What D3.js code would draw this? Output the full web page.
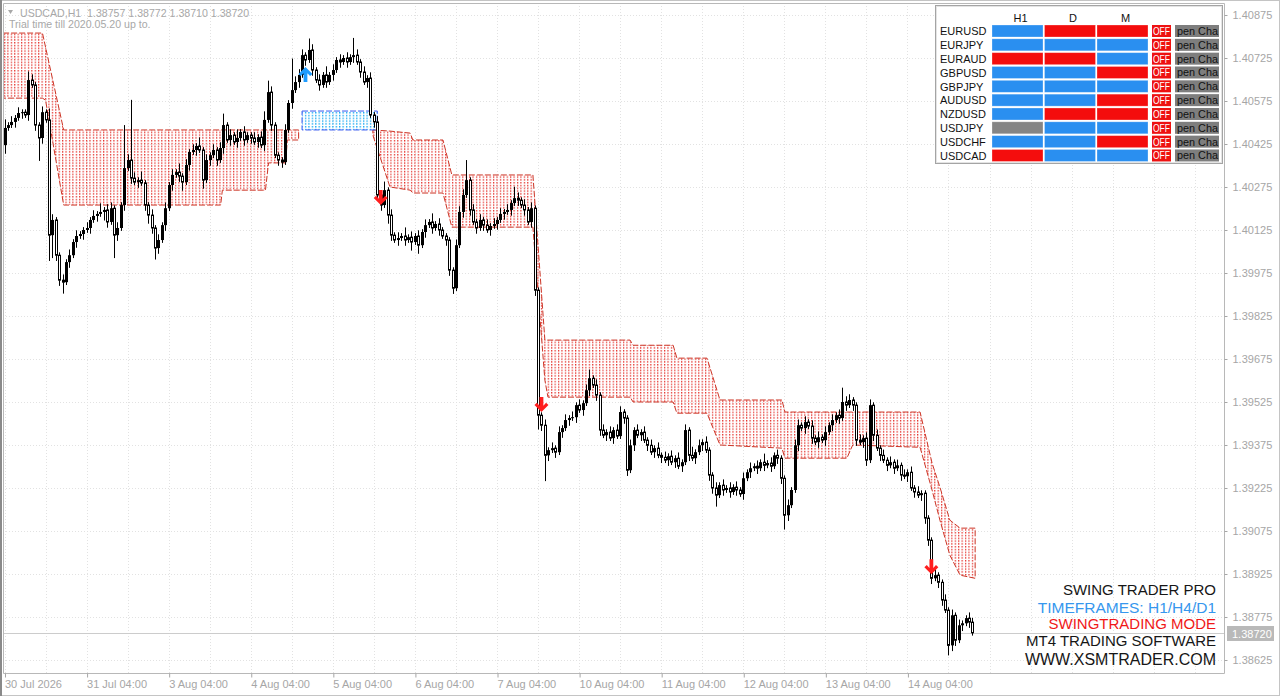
<!DOCTYPE html>
<html><head><meta charset="utf-8">
<script src="https://cdn.jsdelivr.net/npm/d3@7"></script>
<style>
body{margin:0;background:#fff;overflow:hidden}
svg{display:block}
text{font-family:"Liberation Sans",Arial,sans-serif}
</style></head>
<body><svg id="c" width="1280" height="696"></svg>
<script>
// ---------------- DATA ----------------
const symbolTitle = "USDCAD,H1";
const headerOHLC = ["1.38757", "1.38772", "1.38710", "1.38720"];
const trialText = "Trial time till 2020.05.20 up to.";
const lastPrice = 1.38720;
const firstOpen = 1.40421;
const pip = 0.0001;

const closes = [
 1.40481,1.40491,1.40502,1.40516,1.40533,1.40536,1.40526,1.40648,1.40631,1.40491,1.40446,1.40536,
 1.40509,1.40107,1.40160,1.40037,1.39950,1.39943,1.40013,1.40037,1.40083,1.40104,1.40111,1.40125,
 1.40132,1.40160,1.40174,1.40181,1.40188,1.40195,1.40153,1.40201,1.40107,1.40132,1.40212,1.40341,
 1.40369,1.40306,1.40292,1.40299,1.40289,1.40212,1.40177,1.40132,1.40062,1.40090,1.40142,1.40201,
 1.40282,1.40317,1.40327,1.40313,1.40292,1.40352,1.40397,1.40404,1.40418,1.40404,1.40299,1.40369,
 1.40386,1.40404,1.40369,1.40411,1.40491,1.40439,1.40456,1.40432,1.40446,1.40467,1.40439,1.40456,
 1.40446,1.40432,1.40449,1.40421,1.40509,1.40606,1.40491,1.40386,1.40369,1.40362,1.40474,1.40568,
 1.40613,1.40641,1.40666,1.40735,1.40718,1.40753,1.40683,1.40648,1.40631,1.40666,1.40641,1.40666,
 1.40683,1.40718,1.40711,1.40725,1.40711,1.40728,1.40735,1.40711,1.40676,1.40641,1.40655,1.40526,
 1.40502,1.40247,1.40212,1.40264,1.40177,1.40107,1.40090,1.40097,1.40104,1.40090,1.40100,1.40083,
 1.40104,1.40072,1.40118,1.40142,1.40153,1.40132,1.40146,1.40125,1.40104,1.40090,1.39985,1.39922,
 1.40072,1.40188,1.40247,1.40299,1.40195,1.40153,1.40132,1.40160,1.40142,1.40125,1.40139,1.40146,
 1.40160,1.40181,1.40188,1.40195,1.40219,1.40236,1.40229,1.40212,1.40195,1.40153,1.40201,1.39915,
 1.39479,1.39444,1.39339,1.39357,1.39364,1.39350,1.39420,1.39434,1.39462,1.39469,1.39472,1.39514,
 1.39497,1.39521,1.39566,1.39608,1.39584,1.39549,1.39427,1.39409,1.39420,1.39399,1.39427,1.39406,
 1.39490,1.39469,1.39287,1.39374,1.39427,1.39409,1.39420,1.39392,1.39374,1.39350,1.39364,1.39339,
 1.39332,1.39322,1.39336,1.39315,1.39329,1.39301,1.39315,1.39427,1.39339,1.39329,1.39350,1.39374,
 1.39385,1.39357,1.39270,1.39225,1.39200,1.39235,1.39218,1.39225,1.39211,1.39228,1.39218,1.39204,
 1.39259,1.39280,1.39294,1.39301,1.39294,1.39315,1.39304,1.39312,1.39301,1.39339,1.39329,1.39259,
 1.39130,1.39165,1.39218,1.39374,1.39444,1.39434,1.39455,1.39441,1.39399,1.39385,1.39402,1.39392,
 1.39420,1.39444,1.39462,1.39479,1.39469,1.39525,1.39514,1.39532,1.39514,1.39392,1.39385,1.39399,
 1.39322,1.39514,1.39409,1.39364,1.39339,1.39322,1.39304,1.39315,1.39294,1.39304,1.39270,1.39266,
 1.39280,1.39225,1.39211,1.39200,1.39207,1.39120,1.39043,1.38910,1.38921,1.38896,1.38834,1.38799,
 1.38676,1.38781,1.38694,1.38746,1.38753,1.38771,1.38757,1.38720
];
// upper / lower wick length beyond the body, in pips
const wickHi = [
 3,1,2,1,2,1,1,3,2,1,1,2, 1,4,2,1,1,2,1,2,1,2,1,1,
 2,1,2,1,3,1,2,2,1,2,1,15, 2,21,2,1,3,1,1,2,1,2,1,2,
 1,2,1,3,1,2,1,2,1,3,1,2, 1,2,1,2,4,1,2,1,3,1,2,1,
 1,2,1,2,3,4,2,1,1,1,2,1, 11,2,2,2,1,4,2,1,2,1,3,1,
 2,1,2,1,2,1,6,2,1,2,1,2, 1,2,1,3,1,2,1,2,1,3,1,2,
 1,2,1,2,1,3,1,2,1,1,1,1, 2,2,2,7,1,2,1,2,1,2,1,2,
 1,2,1,2,1,4,2,1,2,1,2,1, 1,1,2,1,2,1,2,1,2,1,2,1,
 2,1,2,3,1,2,1,2,1,2,1,2, 2,1,1,2,1,2,1,2,1,2,1,2,
 1,2,1,2,1,2,1,2,1,3,1,2, 1,2,1,1,2,1,2,1,2,1,2,1,
 2,1,2,1,2,1,3,1,2,1,2,1, 1,2,1,2,2,1,2,1,2,1,2,1,
 2,1,2,1,2,5,2,2,1,1,2,1, 2,2,1,2,1,2,1,2,1,2,1,2,
 1,2,1,2,1,1,1,1,2,1,1,2, 1,2,1,2,1,1,2,1.5
];
const wickLo = [
 3,1,1,2,1,2,1,2,1,2,8,2, 1,9,8,2,2,4,1,2,1,2,1,2,
 1,2,1,2,1,3,2,1,8,2,1,2, 1,2,1,2,1,2,3,2,4,2,1,2,
 1,2,1,2,3,1,2,1,2,1,3,1, 2,1,2,1,2,1,2,1,2,1,2,1,
 2,1,2,1,2,1,2,1,2,2,1,1, 2,1,2,1,2,1,2,1,2,1,2,1,
 2,1,2,1,2,1,2,1,2,1,2,1, 2,2,2,1,3,2,1,2,1,2,1,3,
 1,3,1,2,1,2,1,2,1,2,2,2, 1,1,2,1,2,1,2,1,2,1,2,1,
 2,1,2,1,2,1,2,1,2,1,2,2, 5,2,9,2,1,2,1,2,1,2,1,2,
 1,2,1,2,1,2,2,1,2,1,2,1, 1,2,2,1,2,1,2,1,2,1,2,1,
 2,1,2,1,2,1,2,1,2,1,2,1, 2,1,2,2,4,1,2,1,2,1,2,1,
 2,1,2,1,2,1,2,1,2,1,2,2, 5,2,1,1,2,1,2,1,2,1,2,1,
 2,1,2,1,2,1,2,1,2,2,1,2, 2,1,2,1,2,1,2,1,2,1,2,1,
 2,1,2,1,2,2,2,2,1,2,2,1, 3.5,2,2,1,2,1,2,1
];

const priceTicks = [1.40875,1.40725,1.40575,1.40425,1.40275,1.40125,1.39975,1.39825,
                    1.39675,1.39525,1.39375,1.39225,1.39075,1.38925,1.38775,1.38625];
const timeLabels = ["30 Jul 2026","31 Jul 04:00","3 Aug 04:00","4 Aug 04:00","5 Aug 04:00",
                    "6 Aug 04:00","7 Aug 04:00","10 Aug 04:00","11 Aug 04:00","12 Aug 04:00",
                    "13 Aug 04:00","14 Aug 04:00"];
const timeLabelBars = [0,24,48,72,96,120,144,168,192,216,240,264];

// red swing zones (bar index, upper price, lower price)
const zoneAIdx = [-0.4, 11.1, 12, 17.3, 63.2, 63.7, 76.3, 77.2, 82.2, 82.7, 86];
const zoneATop = [1.40812,1.40812,1.40763,1.40474,1.40474,1.40474,1.40474,1.40474,1.40474,1.40474,1.40474];
const zoneABot = [1.40585,1.40585,1.40578,1.40212,1.40212,1.40264,1.40264,1.40359,1.40359,1.40439,1.40439];
const zoneBIdx = [107.7,112.7,118.6,119.4,128.2,130.8,154.5,158.0,158.9,182.9,183.8,195.5,196.6,
                  205.4,209.2,227.3,228.2,246.3,248.0,267.7,271.2,273.5,276.4,279.4,283.8];
const zoneBTop = [1.40474,1.40470,1.40463,1.40439,1.40439,1.40317,1.40317,1.39741,1.39741,1.39741,
                  1.39723,1.39723,1.39678,1.39678,1.39532,1.39532,1.39490,1.39490,1.39490,1.39490,
                  1.39312,1.39228,1.39113,1.39085,1.39085];
const zoneBBot = [1.40456,1.40275,1.40264,1.40254,1.40254,1.40135,1.40135,1.39601,1.39542,1.39542,
                  1.39525,1.39525,1.39486,1.39486,1.39375,1.39364,1.39329,1.39329,1.39375,1.39367,
                  1.39218,1.39113,1.38991,1.38921,1.38910];
// blue zone
const blueIdx = [87, 109];
const blueTop = [1.40540, 1.40540];
const blueBot = [1.40474, 1.40474];

// signal arrows (bar index, price at arrow tip)
const buyIdx = [88];
const buyPrice = [1.40694];
const sellIdx = [110, 157, 271];
const sellPrice = [1.40212, 1.39490, 1.38924];

// dashboard
const pairs = ["EURUSD","EURJPY","EURAUD","GBPUSD","GBPJPY","AUDUSD","NZDUSD","USDJPY","USDCHF","USDCAD"];
const tfHeaders = ["H1","D","M"];
const sigH1 = ["up","up","dn","up","up","up","up","na","up","dn"];
const sigD  = ["dn","up","dn","up","up","up","dn","up","up","up"];
const sigM  = ["dn","up","up","dn","up","dn","dn","up","dn","up"];
const offLabel = "OFF";
const chartLabel = "pen Cha";

const promoText = ["SWING TRADER PRO","TIMEFRAMES: H1/H4/D1","SWINGTRADING MODE","MT4 TRADING SOFTWARE","WWW.XSMTRADER.COM"];
const promoColor = ["#161616","#3697ee","#f01818","#161616","#161616"];

// ---------------- DRAW ----------------
const svg = d3.select("#c");
const PL = 3, PT = 3, PR = 1224, PB = 673;
const x = d3.scaleLinear().domain([0, 283]).range([4.5, 972.4]);
const y = d3.scaleLinear().domain([1.38625, 1.40875]).range([660, 15]);
const step = x(1) - x(0);

svg.append("rect").attr("width",1280).attr("height",696).attr("fill","#fff");

const defs = svg.append("defs");
defs.append("clipPath").attr("id","plotClip").append("rect")
  .attr("x",PL).attr("y",PT).attr("width",PR-PL).attr("height",PB-PT);
const pr = defs.append("pattern").attr("id","redDots").attr("patternUnits","userSpaceOnUse")
  .attr("x", x(0)-0.6).attr("y",0).attr("width",step).attr("height",2.8);
pr.append("rect").attr("width",1.2).attr("height",1.5).attr("fill","#e4312b");
const pb = defs.append("pattern").attr("id","blueDots").attr("patternUnits","userSpaceOnUse")
  .attr("x", x(0)-0.6).attr("y",0).attr("width",step).attr("height",2.8);
pb.append("rect").attr("width",1.3).attr("height",1.5).attr("fill","#1aaaf2");

const plot = svg.append("g").attr("clip-path","url(#plotClip)");

// grid
const gridColor = "#e2e2e2";
plot.append("g").selectAll("line").data(priceTicks).join("line")
  .attr("x1",PL).attr("x2",PR).attr("y1",d=>Math.round(y(d))+0.5).attr("y2",d=>Math.round(y(d))+0.5)
  .attr("stroke",gridColor).attr("stroke-dasharray","1,2");
const vBars = d3.range(0, 360, 12).filter(i => x(i) < PR);
plot.append("g").selectAll("line").data(vBars).join("line")
  .attr("x1",d=>Math.round(x(d))+0.5).attr("x2",d=>Math.round(x(d))+0.5).attr("y1",PT).attr("y2",PB)
  .attr("stroke",gridColor).attr("stroke-dasharray","1,2");

// zones
function zone(idx, top, bot, fill, edge){
  const pts = idx.map((d,k)=>({i:d, t:top[k], b:bot[k]}));
  const area = d3.area().x(d=>x(d.i)).y0(d=>y(d.b)).y1(d=>y(d.t));
  plot.append("path").datum(pts).attr("d",area).attr("fill",fill);
  const outline = pts.map(d=>[x(d.i),y(d.t)]).concat(pts.slice().reverse().map(d=>[x(d.i),y(d.b)]));
  plot.append("path").attr("d", d3.line()(outline)+"Z").attr("fill","none")
    .attr("stroke",edge).attr("stroke-width",1).attr("stroke-dasharray","6,2");
}
zone(zoneAIdx, zoneATop, zoneABot, "url(#redDots)", "#cc3526");
zone(zoneBIdx, zoneBTop, zoneBBot, "url(#redDots)", "#cc3526");
zone(blueIdx, blueTop, blueBot, "url(#blueDots)", "#3658f0");

// bid line
plot.append("line").attr("x1",PL).attr("x2",PR)
  .attr("y1",Math.round(y(lastPrice))+0.5).attr("y2",Math.round(y(lastPrice))+0.5)
  .attr("stroke","#cccccc");

// candles
const bars = closes.map((c,i)=>{
  const o = i===0 ? firstOpen : closes[i-1];
  const top = Math.max(o,c), bot = Math.min(o,c);
  return {i, o, c, top, bot, h: top + wickHi[i]*pip, l: bot - wickLo[i]*pip};
});
const cg = plot.append("g");
const cx = d => Math.round(x(d.i)) + 0.5;
cg.selectAll("line.w").data(bars).join("line").attr("class","w")
  .attr("x1",cx).attr("x2",cx).attr("y1",d=>y(d.h)).attr("y2",d=>y(d.l))
  .attr("stroke","#000").attr("stroke-width",1);
cg.selectAll("rect.up").data(bars.filter(d=>d.c>=d.o)).join("rect").attr("class","up")
  .attr("x",d=>cx(d)-1.5).attr("width",3)
  .attr("y",d=>y(d.top)).attr("height",d=>Math.max(1, y(d.bot)-y(d.top)))
  .attr("fill","#000");
cg.selectAll("rect.dn").data(bars.filter(d=>d.c<d.o)).join("rect").attr("class","dn")
  .attr("x",d=>cx(d)-1).attr("width",2)
  .attr("y",d=>y(d.top)).attr("height",d=>Math.max(1, y(d.bot)-y(d.top)))
  .attr("fill","#fff").attr("stroke","#000").attr("stroke-width",1);

// arrows
const arrowUp = "M0,0 L7,7 L4.6,9.2 L1.9,6.3 L1.9,15 L-1.9,15 L-1.9,6.3 L-4.6,9.2 L-7,7 Z";
plot.selectAll("path.buy").data(buyIdx).join("path").attr("class","buy")
  .attr("d",arrowUp).attr("fill","#1e9cff")
  .attr("transform",(d,k)=>`translate(${x(d)},${y(buyPrice[k])})`);
plot.selectAll("path.sell").data(sellIdx).join("path").attr("class","sell")
  .attr("d",arrowUp).attr("fill","#ff1e1e")
  .attr("transform",(d,k)=>`translate(${x(d)},${y(sellPrice[k])}) scale(1,-1)`);

// header text
svg.append("path").attr("d","M8,10 L13,10 L10.5,14 Z").attr("fill","#a8a8a8");
svg.append("text").attr("x",20).attr("y",17).attr("font-size",10.6).attr("fill","#a8a8a8")
  .attr("xml:space","preserve").text(symbolTitle + "  " + headerOHLC.join(" "));
svg.append("text").attr("x",9).attr("y",28).attr("font-size",10.6).attr("fill","#a8a8a8").text(trialText);

// frame
svg.append("rect").attr("x",0.5).attr("y",0.5).attr("width",1279).attr("height",695)
  .attr("fill","none").attr("stroke","#c4c4c4");
svg.append("rect").attr("x",0).attr("y",0).attr("width",2).attr("height",696).attr("fill","#8a8a8a");
svg.append("path").attr("d",`M${PL+0.5},${PB+0.5} L${PL+0.5},${PT+0.5} L${PR+0.5},${PT+0.5} L${PR+0.5},${PB+0.5} Z`)
  .attr("fill","none").attr("stroke","#b8b8b8");

// axes
const axisColor = "#a6a6a6";
const ay = svg.append("g").attr("transform",`translate(${PR+0.5},0)`)
  .call(d3.axisRight(y).tickValues(priceTicks).tickSize(3).tickPadding(5).tickFormat(d3.format(".5f")));
ay.select(".domain").remove();
ay.selectAll("line").attr("stroke",axisColor);
ay.selectAll("text").attr("fill",axisColor).attr("font-size",11).attr("font-family","Liberation Sans, Arial, sans-serif");

const ax = svg.append("g").attr("transform",`translate(0,${PB+0.5})`)
  .call(d3.axisBottom(x).tickValues(timeLabelBars).tickSize(4).tickPadding(3).tickFormat((d,k)=>timeLabels[k]));
ax.select(".domain").remove();
ax.selectAll("line").attr("stroke",axisColor).attr("transform","translate(0.5,0)");
ax.selectAll("text").attr("fill",axisColor).attr("font-size",11).attr("text-anchor","start").attr("dx",0)
  .attr("font-family","Liberation Sans, Arial, sans-serif");

// last price tag
const ly = Math.round(y(lastPrice));
svg.append("rect").attr("x",PR+3).attr("y",ly-7).attr("width",47).attr("height",15).attr("fill","#b9b9b9");
svg.append("text").attr("x",PR+8).attr("y",ly+4.5).attr("font-size",11).attr("fill","#fff").text(d3.format(".5f")(lastPrice));

// dashboard
const tb = svg.append("g");
tb.append("rect").attr("x",935.5).attr("y",5.5).attr("width",287).attr("height",158)
  .attr("fill","#fff").attr("stroke","#a4a4a4");
tb.append("rect").attr("x",936.5).attr("y",6.5).attr("width",285).attr("height",156)
  .attr("fill","none").attr("stroke","#e4e4e4");
const colX = [992, 1044.5, 1097], colW = 51;
const rowTop = r => 25 + r*13.83;
tb.selectAll("text.hdr").data(tfHeaders).join("text").attr("class","hdr")
  .attr("x",(d,k)=>colX[k]+colW/2+3).attr("y",21.5).attr("text-anchor","middle")
  .attr("font-size",11).attr("fill","#111").text(d=>d);
const sigColor = {up:"#2a8ff0", dn:"#f40d0d", na:"#858585"};
const sigs = [sigH1, sigD, sigM];
pairs.forEach((p,r)=>{
  const t = rowTop(r);
  tb.append("text").attr("x",940).attr("y",t+10.2).attr("font-size",11).attr("fill","#111").text(p);
  sigs.forEach((s,k)=>{
    tb.append("rect").attr("x",colX[k]).attr("y",t).attr("width",colW).attr("height",12)
      .attr("fill",sigColor[s[r]]).attr("stroke","rgba(255,255,255,0.35)").attr("stroke-width",0.8);
  });
  tb.append("rect").attr("x",1152).attr("y",t).attr("width",19).attr("height",12).attr("fill","#ee1111");
  tb.append("text").attr("x",1153).attr("y",t+10).attr("font-size",10.5)
    .attr("textLength",17).attr("lengthAdjust","spacingAndGlyphs").attr("fill","#fff").text(offLabel);
  tb.append("rect").attr("x",1175).attr("y",t).attr("width",44).attr("height",12).attr("fill","#7e7e7e");
  tb.append("text").attr("x",1177).attr("y",t+10).attr("font-size",11)
    .attr("textLength",41).attr("lengthAdjust","spacingAndGlyphs").attr("fill","#111").text(chartLabel);
});

// promo text
const promoY = [595, 612.5, 629, 646, 665];
const promoSize = [15, 15.5, 15, 15, 16];
svg.append("g").selectAll("text").data(promoText).join("text")
  .attr("x",1216).attr("y",(d,k)=>promoY[k]).attr("text-anchor","end")
  .attr("font-size",(d,k)=>promoSize[k]).attr("fill",(d,k)=>promoColor[k]).text(d=>d);
</script>
</body></html>
